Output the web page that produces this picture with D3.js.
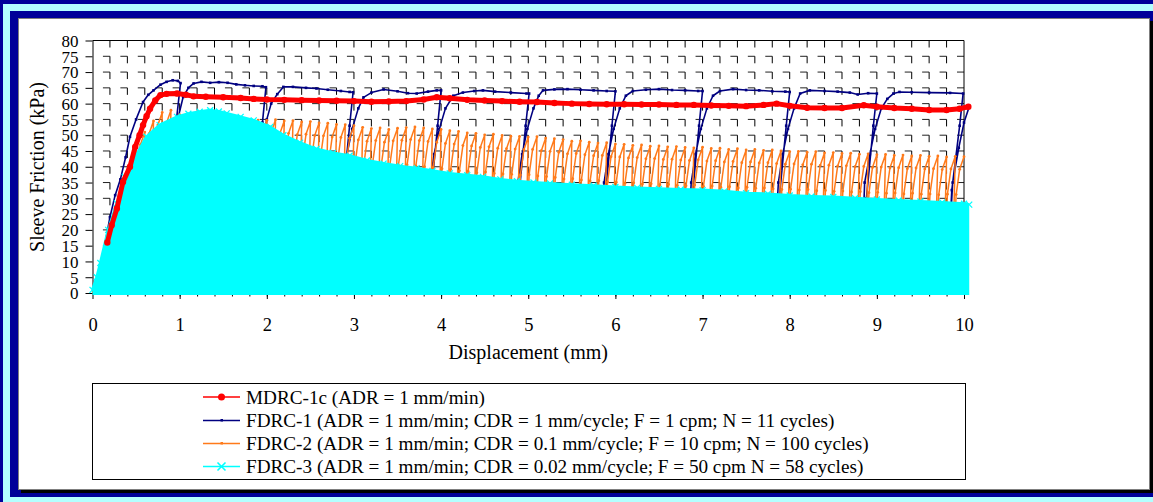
<!DOCTYPE html>
<html>
<head>
<meta charset="utf-8">
<script src="https://cdn.jsdelivr.net/npm/d3@7"></script>
<style>
  html, body { margin: 0; padding: 0; background: #000099; }
  svg { display: block; }
  text { font-family: "Liberation Serif", "Times New Roman", serif; fill: #000; }
</style>
</head>
<body>
<svg id="chart" width="1153" height="502"></svg>
<script>
// ---- Data -------------------------------------------------------------
const xTickLabels = [0, 1, 2, 3, 4, 5, 6, 7, 8, 9, 10];
const yTickLabels = [0, 5, 10, 15, 20, 25, 30, 35, 40, 45, 50, 55, 60, 65, 70, 75, 80];

const seriesNames = [
  "MDRC-1c (ADR = 1 mm/min)",
  "FDRC-1 (ADR = 1 mm/min; CDR = 1 mm/cycle; F = 1 cpm; N = 11 cycles)",
  "FDRC-2 (ADR = 1 mm/min; CDR = 0.1 mm/cycle; F = 10 cpm; N = 100 cycles)",
  "FDRC-3 (ADR = 1 mm/min; CDR = 0.02 mm/cycle; F = 50 cpm N = 58 cycles)"
];

// MDRC-1c: monotonic test, [displacement mm, sleeve friction kPa]
const mdrc1c = [
  [0.17, 16], [0.22, 21.5], [0.28, 26.8], [0.35, 35.2], [0.43, 40], [0.49, 46.3],
  [0.54, 50], [0.58, 53.2], [0.62, 56], [0.66, 58.4], [0.72, 61], [0.78, 62.7],
  [0.85, 63.1], [0.97, 63.2], [1.07, 62.8], [1.16, 62.3], [1.3, 62.2], [1.5, 62],
  [1.7, 61.8], [1.85, 61.5], [2.0, 61.3], [2.2, 61.2], [2.4, 61.1], [2.6, 61],
  [2.8, 60.9], [3.0, 60.8], [3.2, 60.6], [3.4, 60.7], [3.6, 60.8], [3.8, 61.3],
  [3.95, 62], [4.1, 61.7], [4.3, 61.2], [4.5, 61], [4.7, 60.8], [4.9, 60.6],
  [5.1, 60.5], [5.3, 60.2], [5.5, 60], [5.7, 59.9], [5.9, 59.8], [6.1, 59.8],
  [6.3, 59.7], [6.5, 59.7], [6.7, 59.6], [6.9, 59.6], [7.1, 59.4], [7.3, 59.3],
  [7.5, 59.2], [7.7, 59.6], [7.85, 60], [8.0, 59.3], [8.2, 58.7], [8.4, 58.6],
  [8.6, 58.6], [8.85, 59.5], [9.0, 59], [9.2, 58.6], [9.4, 58.4], [9.6, 58],
  [9.8, 58], [9.95, 58.4], [10.05, 59]
];

// FDRC-1: 1 mm cycles, loading / unloading / reloading trace
const fdrc1 = [
  [0.03, 0], [0.1, 9], [0.2, 24], [0.26, 31], [0.32, 36], [0.38, 43], [0.43, 49.5],
  [0.5, 55], [0.58, 60.5], [0.64, 62.8], [0.7, 64.2], [0.78, 66], [0.85, 66.9],
  [0.92, 67.4], [0.98, 67.2], [1.01, 66.5],
  [0.965, 55.3], [0.88, 30], [0.8, 0],
  [0.78, 0], [0.84, 20], [0.87, 35], [0.94, 48], [0.985, 55.8], [1.04, 62.1], [1.1, 65],
  [1.16, 66.4], [1.25, 66.9], [1.35, 66.6], [1.45, 66.8], [1.55, 66.6], [1.65, 66.1],
  [1.75, 65.8], [1.85, 65.6], [1.95, 65.5], [1.99, 65.2],
  [1.95, 54], [1.87, 30], [1.8, 0],
  [1.78, 0], [1.84, 20], [1.87, 35], [1.95, 48], [2.0, 55], [2.05, 60], [2.12, 63],
  [2.19, 65.3], [2.3, 65.3], [2.45, 65], [2.57, 64.8], [2.7, 64.4], [2.85, 64],
  [2.95, 63.7], [2.99, 63.6],
  [2.95, 53], [2.87, 30], [2.8, 0],
  [2.78, 0], [2.84, 20], [2.87, 35], [2.92, 44], [2.98, 52], [3.05, 58.5], [3.11, 62],
  [3.2, 63.5], [3.34, 64.5], [3.5, 63.9], [3.62, 63.3], [3.72, 63.2], [3.85, 63.8],
  [3.95, 64.2], [4.0, 64.2],
  [3.96, 53], [3.88, 30], [3.8, 0],
  [3.78, 0], [3.84, 20], [3.87, 35], [3.92, 44], [3.98, 52], [4.05, 58.5], [4.14, 62.5],
  [4.25, 63.5], [4.38, 64], [4.48, 64.2], [4.62, 63.8], [4.8, 63.5], [4.98, 63.2], [5.01, 63.2],
  [4.97, 53], [4.89, 30], [4.81, 0],
  [4.79, 0], [4.85, 20], [4.88, 35], [4.93, 44], [4.99, 52], [5.06, 58.5], [5.12, 62.5],
  [5.17, 64.2], [5.3, 64.5], [5.45, 64.6], [5.6, 64.4], [5.75, 64.2], [5.9, 64], [6.0, 63.9],
  [5.96, 53], [5.88, 30], [5.8, 0],
  [5.78, 0], [5.84, 20], [5.87, 35], [5.92, 44], [5.98, 52], [6.05, 58.5], [6.12, 62.5],
  [6.2, 64], [6.35, 64.4], [6.5, 64.6], [6.65, 64.3], [6.8, 64.2], [6.95, 64], [7.0, 64],
  [6.96, 53], [6.88, 30], [6.8, 0],
  [6.78, 0], [6.84, 20], [6.87, 35], [6.92, 44], [6.98, 52], [7.05, 58.5], [7.12, 62.5],
  [7.2, 64], [7.35, 64.6], [7.5, 64.3], [7.65, 64.2], [7.8, 63.9], [7.95, 63.8], [8.0, 63.7],
  [7.96, 53], [7.88, 30], [7.8, 0],
  [7.78, 0], [7.84, 20], [7.87, 35], [7.92, 44], [7.98, 52], [8.05, 58.5], [8.12, 63.2],
  [8.23, 64.2], [8.4, 64], [8.55, 63.8], [8.69, 63.5], [8.78, 62.9], [8.9, 63.3], [9.0, 63.2],
  [8.96, 53], [8.88, 30], [8.8, 0],
  [8.78, 0], [8.84, 20], [8.86, 35], [8.92, 44], [8.98, 52], [9.05, 58.4], [9.12, 61.5],
  [9.19, 63.2], [9.26, 63.7], [9.4, 63.6], [9.6, 63.5], [9.84, 63.4], [9.99, 63.2],
  [9.95, 53], [9.86, 32.6], [9.8, 0],
  [9.78, 0], [9.84, 20], [9.87, 35], [9.94, 46], [10.0, 54], [10.06, 59]
];

// FDRC-2: peak friction of each 0.1 mm cycle (kPa), cycles 1..100
const fdrc2CycleLength = 0.1;
const fdrc2Peaks = [
   8,   20,   30,   39,   46,   51,   54.5, 57.2, 57.9, 56.5,
  55.8, 56,   56.3, 56,   55.6, 55.5, 55.2, 55,   54.8, 54.7,
  54.9, 54.5, 54.6, 54.2, 54.3, 53.9, 53.8, 53.4, 53.3, 53,
  52.5, 52.1, 52.3, 51.8, 52.2, 52.4, 52.6, 52.3, 52,   51.8,
  51.4, 51.2, 50.7, 50.6, 50.1, 50.3, 49.9, 49.7, 49.6, 49.4,
  49.5, 49.1, 48.9, 48.6, 48.1, 48.2, 47.8, 47.5, 47.6, 47.2,
  47.1, 46.8, 46.9, 46.5, 46.6, 46.3, 46.4, 46.1, 46.0, 46.2,
  45.8, 45.9, 45.5, 45.7, 45.3, 45.5, 45.2, 45.3, 45.0, 44.8,
  44.9, 44.6, 44.8, 44.4, 44.5, 44.2, 44.3, 44.0, 44.1, 43.8,
  43.9, 43.6, 43.7, 43.4, 43.6, 43.3, 43.4, 43.1, 43.3, 43.2
];
// shape of one unload/reload loop: [displacement offset mm, friction offset from next peak kPa]
const fdrc2UnloadEnd = [-0.04, 0];
const fdrc2Reload = [[-0.045, null], [0.01, -12], [0.05, -4]];

// FDRC-3: upper envelope of the 0.02 mm cycles (lower bound is 0 kPa)
const fdrc3Top = [
  [0, 1], [0.05, 5], [0.09, 9.5], [0.18, 20], [0.28, 28.4], [0.37, 36.8], [0.49, 43],
  [0.62, 49.5], [0.77, 53.2], [0.97, 55.8], [1.1, 56.8], [1.23, 57.4], [1.35, 57.9],
  [1.45, 57.5], [1.54, 56.9], [1.7, 55.8], [1.85, 54.7], [2.04, 52.6], [2.19, 50],
  [2.38, 47.6], [2.57, 45.6], [2.76, 44.4], [2.95, 43.5], [3.15, 42], [3.34, 41],
  [3.53, 40.2], [3.72, 39.5], [3.9, 38.7], [4.1, 37.9], [4.3, 37.3], [4.48, 36.8],
  [4.68, 36], [4.87, 35.4], [5.06, 35], [5.25, 34.7], [5.5, 34.3], [5.75, 34],
  [6.0, 33.6], [6.25, 33.3], [6.5, 33], [6.75, 32.8], [7.0, 32.6], [7.25, 32.2],
  [7.5, 31.6], [7.75, 31.4], [8.0, 30.9], [8.25, 30.6], [8.5, 30.4], [8.75, 30],
  [9.0, 29.6], [9.25, 29.3], [9.5, 29], [9.75, 28.7], [10.0, 28.3], [10.06, 28]
];

// ---- Layout -------------------------------------------------------------
const W = 1153, H = 502;
const plot = { left: 92.5, right: 964, top: 40.5, bottom: 293 };
const colors = { mdrc: "#ff0000", fdrc1: "#000080", fdrc2: "#ff7a1a", fdrc3: "#00ffff" };

const svg = d3.select("#chart");

// window frame
svg.append("rect").attr("width", W).attr("height", H).attr("fill", "#000099");
svg.append("rect").attr("x", 3).attr("y", 4).attr("width", W + 20).attr("height", H + 20).attr("fill", "#b3ffff");
svg.append("rect").attr("x", 10).attr("y", 11).attr("width", W + 20).attr("height", 486).attr("fill", "#000099");
svg.append("rect").attr("x", 21).attr("y", 21).attr("width", 1132).attr("height", 472).attr("fill", "#000");
svg.append("rect").attr("x", 18.5).attr("y", 18.5).attr("width", 1131).attr("height", 471)
  .attr("fill", "#fff").attr("stroke", "#7f7f7f");

const x = d3.scaleLinear().domain([0, 10]).range([plot.left, plot.right]);
const y = d3.scaleLinear().domain([0, 80]).range([plot.bottom, plot.top]);

// ---- Grid ---------------------------------------------------------------
const minorX = d3.range(1, 50).map(i => i * 0.2);
const vPeriod = y(0) - y(5);
const hPeriod = x(0.2) - x(0);
const grid = svg.append("g").attr("stroke", "#000").attr("stroke-width", 1).attr("fill", "none");
grid.selectAll("line.h").data(yTickLabels.slice(1, -1)).join("line")
  .attr("class", "h")
  .attr("x1", plot.left).attr("x2", plot.right)
  .attr("y1", d => y(d)).attr("y2", d => y(d))
  .attr("stroke", "#222")
  .attr("stroke-dasharray", `7,${hPeriod - 7}`)
  .attr("stroke-dashoffset", 7);
grid.selectAll("line.v").data(minorX).join("line")
  .attr("class", "v")
  .attr("x1", d => x(d)).attr("x2", d => x(d))
  .attr("y1", plot.top).attr("y2", plot.bottom)
  .attr("stroke-dasharray", `7,${vPeriod - 7}`);

// plot border (top and right)
svg.append("path")
  .attr("d", `M${plot.left},${plot.top}H${plot.right}V${plot.bottom}`)
  .attr("fill", "none").attr("stroke", "#000");

// ---- Axes ---------------------------------------------------------------
const yAxis = svg.append("g").attr("transform", `translate(${plot.left},0)`)
  .call(d3.axisLeft(y).tickValues(yTickLabels).tickSize(7).tickPadding(7).tickSizeOuter(0));
yAxis.selectAll("text").attr("font-size", 17).attr("dy", "0.34em");

const xAxisMinor = svg.append("g").attr("transform", `translate(0,${plot.bottom})`)
  .call(d3.axisBottom(x).tickValues(minorX).tickSize(3.5).tickFormat("").tickSizeOuter(0));
const xAxis = svg.append("g").attr("transform", `translate(0,${plot.bottom})`)
  .call(d3.axisBottom(x).tickValues(xTickLabels).tickSize(6).tickPadding(19).tickSizeOuter(0));
xAxis.selectAll("text").attr("font-size", 18.5);
[yAxis, xAxis, xAxisMinor].forEach(g => g.selectAll("path,line").attr("stroke", "#000"));

// axis titles
svg.append("text").attr("x", (plot.left + plot.right) / 2).attr("y", 359)
  .attr("text-anchor", "middle").attr("font-size", 20).text("Displacement (mm)");
svg.append("text").attr("transform", "translate(44,167) rotate(-90)")
  .attr("text-anchor", "middle").attr("font-size", 20).text("Sleeve Friction (kPa)");

// ---- Series -------------------------------------------------------------
const line = d3.line().x(d => x(d[0])).y(d => y(d[1]));

// FDRC-1
const g1 = svg.append("g");
g1.append("path").datum(fdrc1).attr("d", line)
  .attr("fill", "none").attr("stroke", colors.fdrc1).attr("stroke-width", 1.6).attr("stroke-linejoin", "round");
g1.selectAll("rect").data(fdrc1).join("rect")
  .attr("x", d => x(d[0]) - 1.3).attr("y", d => y(d[1]) - 1.3)
  .attr("width", 2.6).attr("height", 2.6).attr("fill", colors.fdrc1);

// FDRC-2: expand the per-cycle peaks into the unload / reload trace
const fdrc2 = [[0, 0]];
const fdrc2Marks = [];
fdrc2Peaks.forEach((peak, i) => {
  const px = (i + 1) * fdrc2CycleLength;
  fdrc2.push([px, peak]);
  fdrc2Marks.push([px, peak]);
  const next = fdrc2Peaks[i + 1];
  if (next === undefined) return;
  fdrc2.push([px + fdrc2UnloadEnd[0], fdrc2UnloadEnd[1]]);
  fdrc2Reload.forEach(([dx, dy]) => {
    const v = dy === null ? 0 : Math.max(0, next + dy);
    fdrc2.push([px + dx, v]);
    if (dy !== null) fdrc2Marks.push([px + dx, v]);
  });
});
const g2 = svg.append("g");
g2.append("path").datum(fdrc2).attr("d", line)
  .attr("fill", "none").attr("stroke", colors.fdrc2).attr("stroke-width", 1.5).attr("stroke-linejoin", "round");
g2.selectAll("circle").data(fdrc2Marks).join("circle")
  .attr("cx", d => x(d[0])).attr("cy", d => y(d[1])).attr("r", 1.4).attr("fill", colors.fdrc2);

// FDRC-3: dense cycles between 0 and the peak envelope, with x markers on the peaks
const area = d3.area().x(d => x(d[0])).y0(y(0) + 2).y1(d => y(d[1]));
const g3 = svg.append("g");
g3.append("path").datum(fdrc3Top).attr("d", area).attr("fill", colors.fdrc3);
g3.append("path").datum(fdrc3Top).attr("d", line)
  .attr("fill", "none").attr("stroke", colors.fdrc3).attr("stroke-width", 3).attr("stroke-linejoin", "round");
g3.selectAll("path.mk").data(fdrc3Top).join("path")
  .attr("class", "mk")
  .attr("d", d => { const cx = x(d[0]), cy = y(d[1]); return `M${cx - 3},${cy - 3}l6,6M${cx - 3},${cy + 3}l6,-6`; })
  .attr("stroke", colors.fdrc3).attr("stroke-width", 1.3);

// MDRC-1c
const g0 = svg.append("g");
g0.append("path").datum(mdrc1c).attr("d", line)
  .attr("fill", "none").attr("stroke", colors.mdrc).attr("stroke-width", 5).attr("stroke-linejoin", "round");
g0.selectAll("circle").data(mdrc1c).join("circle")
  .attr("cx", d => x(d[0])).attr("cy", d => y(d[1])).attr("r", 3.2).attr("fill", colors.mdrc);

// ---- Legend -------------------------------------------------------------
const legend = svg.append("g");
legend.append("rect").attr("x", 92.5).attr("y", 383.5).attr("width", 873).attr("height", 96)
  .attr("fill", "#fff").attr("stroke", "#000");
const legendKeys = ["mdrc", "fdrc1", "fdrc2", "fdrc3"];
const rowY = [397, 420.5, 443.5, 466.5];
legendKeys.forEach((k, i) => {
  const ry = rowY[i];
  legend.append("line").attr("x1", 203).attr("x2", 240).attr("y1", ry).attr("y2", ry)
    .attr("stroke", colors[k]).attr("stroke-width", 1.5);
  if (k === "mdrc") {
    legend.append("circle").attr("cx", 221.5).attr("cy", ry).attr("r", 3.5).attr("fill", colors[k]);
  } else if (k === "fdrc3") {
    legend.append("path").attr("d", `M${217.5},${ry - 4}l8,8M${217.5},${ry + 4}l8,-8`)
      .attr("stroke", colors[k]).attr("stroke-width", 1.6);
  } else {
    legend.append("rect").attr("x", 220.5).attr("y", ry - 1.5).attr("width", 2.5).attr("height", 2.5)
      .attr("fill", colors[k]);
  }
  legend.append("text").attr("x", 246).attr("y", ry).attr("dy", "0.34em")
    .attr("font-size", 19.2).text(seriesNames[i]);
});
</script>
</body>
</html>
